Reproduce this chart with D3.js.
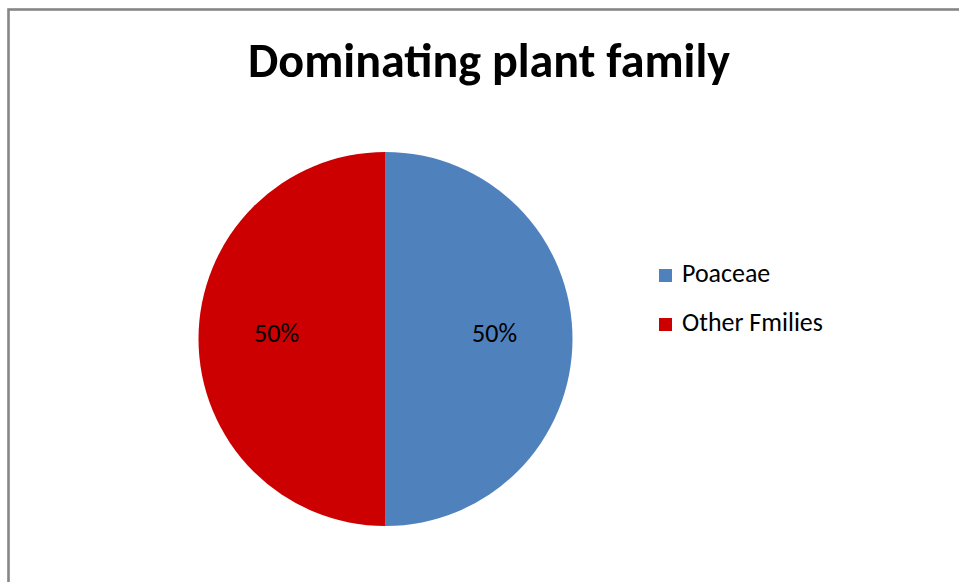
<!DOCTYPE html>
<html><head><meta charset="utf-8">
<script src="https://cdn.jsdelivr.net/npm/d3@7"></script>
<style>html,body{margin:0;padding:0;background:#fff;}svg{display:block;}</style>
</head><body>
<svg id="chart" width="959" height="582"></svg>
<script>
const title = "Dominating plant family";
const categories = ["Poaceae", "Other Fmilies"];
const values = [50, 50];
const colors = ["#4F81BD", "#CC0000"];

const svg = d3.select("#chart");
const W = 959, H = 582;
svg.append("rect").attr("x", 0).attr("y", 0).attr("width", W).attr("height", H).attr("fill", "#fff");
// chart area frame
svg.append("rect").attr("x", 8.5).attr("y", 9.5).attr("width", W + 20).attr("height", H + 20)
  .attr("fill", "none").attr("stroke", "#868686").attr("stroke-width", 2.6);

const font = "Calibri, Carlito, Lato, 'Open Sans', 'Liberation Sans', sans-serif";

function fitSize(sel, base, target) {
  const w = sel.node().getComputedTextLength();
  return base * target / w;
}

// title
const t = svg.append("text").attr("x", 489).attr("y", 77).attr("text-anchor", "middle")
  .attr("font-family", font).attr("font-weight", "bold").attr("font-size", 36).attr("fill", "#000").text(title);
t.attr("font-size", fitSize(t, 36, 482));

const cx = 385.5, cy = 339, r = 187;
const total = d3.sum(values);
const pie = d3.pie().sort(null).value(d => d.value);
const data = pie(categories.map((c, i) => ({ cat: c, value: values[i], color: colors[i] })));
const arc = d3.arc().innerRadius(0).outerRadius(r);
const labelArc = d3.arc().innerRadius(109).outerRadius(109);

const g = svg.append("g").attr("transform", `translate(${cx},${cy})`);
g.selectAll("path").data(data).join("path").attr("d", arc).attr("fill", d => d.data.color);
const lbl = g.selectAll("text").data(data).join("text")
  .attr("transform", d => { const [x, y] = labelArc.centroid(d); return `translate(${x},${y - 6})`; })
  .attr("text-anchor", "middle").attr("dominant-baseline", "central")
  .attr("font-family", font).attr("font-size", 20).attr("fill", "#000")
  .text(d => d3.format(".0%")(d.data.value / total));
lbl.attr("font-size", fitSize(lbl, 20, 45));

// legend
const leg = svg.append("g");
const rows = leg.selectAll("g").data(data).join("g")
  .attr("transform", (d, i) => `translate(659,${269 + i * 49})`);
rows.append("rect").attr("width", 13).attr("height", 13).attr("fill", d => d.data.color);
const lt = rows.append("text").attr("x", 23).attr("y", 13)
  .attr("font-family", font).attr("font-size", 20).attr("fill", "#000").text(d => d.data.cat);
const ls = fitSize(d3.select(lt.nodes()[1]), 20, 141);
lt.attr("font-size", ls);
</script>
</body></html>
